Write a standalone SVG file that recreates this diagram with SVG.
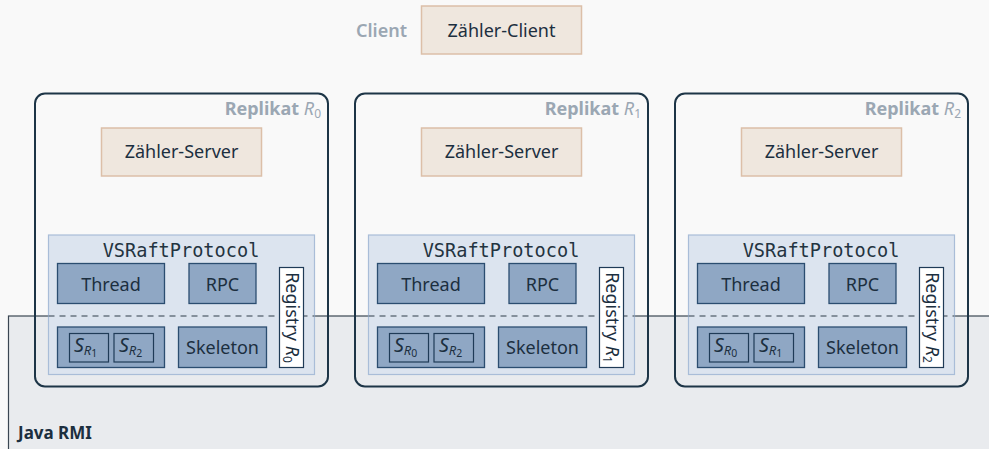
<svg xmlns="http://www.w3.org/2000/svg" width="989" height="449" viewBox="0 0 989 449">
  <defs>
    <style>
      text { font-family: "Noto Sans", "Open Sans", sans-serif; font-size: 18px; fill: #1c2f3f; }
      .label { text-anchor: middle; }
      .mono { font-family: "DejaVu Sans Mono", "Liberation Mono", monospace; font-size: 18.6px; text-anchor: middle; fill: #23333f; }
      .tag { fill: #9ba7b3; font-weight: bold; }
      .beige { fill: #efe7de; stroke: #dcbfa8; stroke-width: 1.5; }
      .replica { fill: none; stroke: #1d3547; stroke-width: 2; }
      .panel { fill: #dce4ef; stroke: #a9bdd8; stroke-width: 1.2; }
      .part { fill: #8fa7c4; stroke: #2b4d70; stroke-width: 1.3; }
      .stub { fill: none; stroke: #1f3b57; stroke-width: 1.2; }
      .registry { fill: #ffffff; stroke: #1f3b57; stroke-width: 1.2; }
      .divider { stroke: #2f3d4a; stroke-width: 1.2; stroke-dasharray: 6 5; }
      .it { font-style: italic; }
      .s { font-size: 19.5px; }
      .sr { font-style: italic; font-size: 13px; }
      .sn { font-size: 10.5px; }
    </style>
  </defs>

  <!-- page background -->
  <rect x="0" y="0" width="989" height="449" fill="#f9f9f9"/>

  <!-- Java RMI layer -->
  <g id="java-rmi">
    <rect x="8.5" y="316" width="990" height="150" fill="#e9ebee" stroke="#3a4652" stroke-width="1.2"/>
    <text x="18" y="439" style="font-weight:bold; font-size:17px">Java RMI</text>
  </g>

  <!-- client -->
  <g id="client">
    <text class="tag" x="407" y="37" text-anchor="end" style="font-weight:600">Client</text>
    <rect class="beige" x="421.5" y="6" width="160" height="48"/>
    <text class="label" x="501.5" y="37">Zähler-Client</text>
  </g>

  <!-- one replica, reused three times -->
  <defs>
    <g id="replica-body">
      <rect class="replica" x="35" y="93.5" width="293" height="293" rx="10"/>
      <rect class="beige" x="101.5" y="128" width="160" height="48"/>
      <text class="label" x="181.5" y="158">Zähler-Server</text>
      <rect class="panel" x="48.5" y="235" width="266" height="139.5"/>
      <text class="mono" x="181" y="256.5">VSRaftProtocol</text>
      <rect class="part" x="57.5" y="263.5" width="107" height="40"/>
      <text class="label" x="111" y="290.5">Thread</text>
      <rect class="part" x="189" y="263.5" width="67" height="40"/>
      <text class="label" x="222.5" y="290.5">RPC</text>
      <line class="divider" x1="48.5" y1="316" x2="314.5" y2="316"/>
      <rect class="part" x="57.5" y="327" width="107" height="40.5"/>
      <rect class="stub" x="69.5" y="333.5" width="39" height="28.5"/>
      <rect class="stub" x="114" y="333.5" width="39.5" height="28.5"/>
      <rect class="part" x="178.5" y="327" width="88" height="40.5"/>
      <text class="label" x="222.5" y="353.5">Skeleton</text>
      <rect class="registry" x="279.5" y="267.5" width="24" height="100"/>
    </g>
  </defs>

  <g id="replica-0">
    <use href="#replica-body"/>
    <text class="tag" x="321" y="115" text-anchor="end">Replikat <tspan class="it" style="font-weight:normal">R</tspan><tspan style="font-weight:normal; font-size:12px" dy="3">0</tspan></text>
    <text x="74" y="352"><tspan class="it s">S</tspan><tspan class="sr" dy="3">R</tspan><tspan class="sn" dy="2">1</tspan></text>
    <text x="119" y="352"><tspan class="it s">S</tspan><tspan class="sr" dy="3">R</tspan><tspan class="sn" dy="2">2</tspan></text>
    <text transform="translate(291.5,317.5) rotate(90)" x="0" y="5.5" text-anchor="middle">Registry <tspan class="it">R</tspan><tspan font-size="12" dy="3">0</tspan></text>
  </g>

  <g id="replica-1">
    <use href="#replica-body" x="320"/>
    <text class="tag" x="641" y="115" text-anchor="end">Replikat <tspan class="it" style="font-weight:normal">R</tspan><tspan style="font-weight:normal; font-size:12px" dy="3">1</tspan></text>
    <text x="394" y="352"><tspan class="it s">S</tspan><tspan class="sr" dy="3">R</tspan><tspan class="sn" dy="2">0</tspan></text>
    <text x="439" y="352"><tspan class="it s">S</tspan><tspan class="sr" dy="3">R</tspan><tspan class="sn" dy="2">2</tspan></text>
    <text transform="translate(611.5,317.5) rotate(90)" x="0" y="5.5" text-anchor="middle">Registry <tspan class="it">R</tspan><tspan font-size="12" dy="3">1</tspan></text>
  </g>

  <g id="replica-2">
    <use href="#replica-body" x="640"/>
    <text class="tag" x="961" y="115" text-anchor="end">Replikat <tspan class="it" style="font-weight:normal">R</tspan><tspan style="font-weight:normal; font-size:12px" dy="3">2</tspan></text>
    <text x="714" y="352"><tspan class="it s">S</tspan><tspan class="sr" dy="3">R</tspan><tspan class="sn" dy="2">0</tspan></text>
    <text x="759" y="352"><tspan class="it s">S</tspan><tspan class="sr" dy="3">R</tspan><tspan class="sn" dy="2">1</tspan></text>
    <text transform="translate(931.5,317.5) rotate(90)" x="0" y="5.5" text-anchor="middle">Registry <tspan class="it">R</tspan><tspan font-size="12" dy="3">2</tspan></text>
  </g>

  <!-- no connectors between the nodes -->
  <g id="connectors"/>
</svg>
